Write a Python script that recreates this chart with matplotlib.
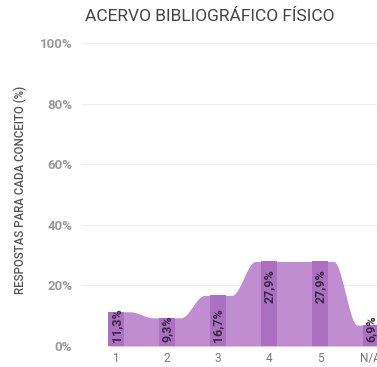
import numpy as np
import matplotlib
matplotlib.use("Agg")
import matplotlib.pyplot as plt

plt.rcParams["font.family"] = ["Roboto", "DejaVu Sans"]

# dados do grafico
categorias = ["1", "2", "3", "4", "5", "N/A"]
valores = [11.3, 9.3, 16.7, 27.9, 27.9, 6.9]
rotulos = ["11,3%", "9,3%", "16,7%", "27,9%", "27,9%", "6,9%"]
yticks = [0, 20, 40, 60, 80, 100]

cor_area = "#c18dd1"
cor_barra = "#ab70c1"

fig = plt.figure(figsize=(3.77, 3.67), dpi=100, facecolor="w")
ax = fig.add_axes([0.2175, 0.0572, 0.7825, 0.8256])

# area em degraus suavizados
meia = 0.16
xs = [np.linspace(-meia, 0.27, 20)]
ys = [np.full(20, valores[0])]
for i in range(len(valores) - 1):
    t = np.linspace(0, 1, 40)
    s = t * t * (3 - 2 * t)
    xs.append(i + 0.27 + 0.46 * t)
    ys.append(valores[i] + (valores[i + 1] - valores[i]) * s)
    fim = len(valores) - 1 + meia if i == len(valores) - 2 else i + 1.27
    xs.append(np.linspace(i + 0.73, fim, 20))
    ys.append(np.full(20, valores[i + 1]))
xa = np.concatenate(xs)
ya = np.concatenate(ys)
ax.fill_between(xa, 0, ya, color=cor_area, lw=0, zorder=2)

x = np.arange(len(categorias))
ax.bar(x, valores, width=0.32, color=cor_barra, zorder=3)

for i, v in enumerate(valores):
    if v > 20:
        ax.text(i, v - 2.7, rotulos[i], rotation=90, ha="center", va="top",
                fontsize=9, fontweight="bold", color="#3a2a40", zorder=4)
    else:
        ax.text(i, 1.3, rotulos[i], rotation=90, ha="center", va="bottom",
                fontsize=9, fontweight="bold", color="#3a2a40", zorder=4)

ax.set_xlim(-0.67, 5.12)
ax.set_ylim(0, 100)
ax.set_yticks(yticks)
ax.set_yticklabels([f"{t}%" for t in yticks])
ax.set_xticks(x)
ax.set_xticklabels(categorias)
ax.tick_params(axis="y", length=0, pad=7, labelsize=9.5, labelcolor="#999999")
ax.tick_params(axis="x", length=0, pad=4, labelsize=8.5, labelcolor="#777777")
for lab in ax.get_yticklabels():
    lab.set_fontweight("bold")
ax.grid(axis="y", color="#eeeeee", lw=0.8, zorder=0)
for s in ax.spines.values():
    s.set_visible(False)

fig.text(0.557, 0.956, "ACERVO BIBLIOGRÁFICO FÍSICO", ha="center", va="center",
         fontsize=12.5, color="#444444")
fig.text(0.053, 0.482, "RESPOSTAS PARA CADA CONCEITO (%)", rotation=90,
         ha="center", va="center", fontsize=8.3, fontweight="medium",
         color="#555555")

fig.savefig("out.png", dpi=100)
